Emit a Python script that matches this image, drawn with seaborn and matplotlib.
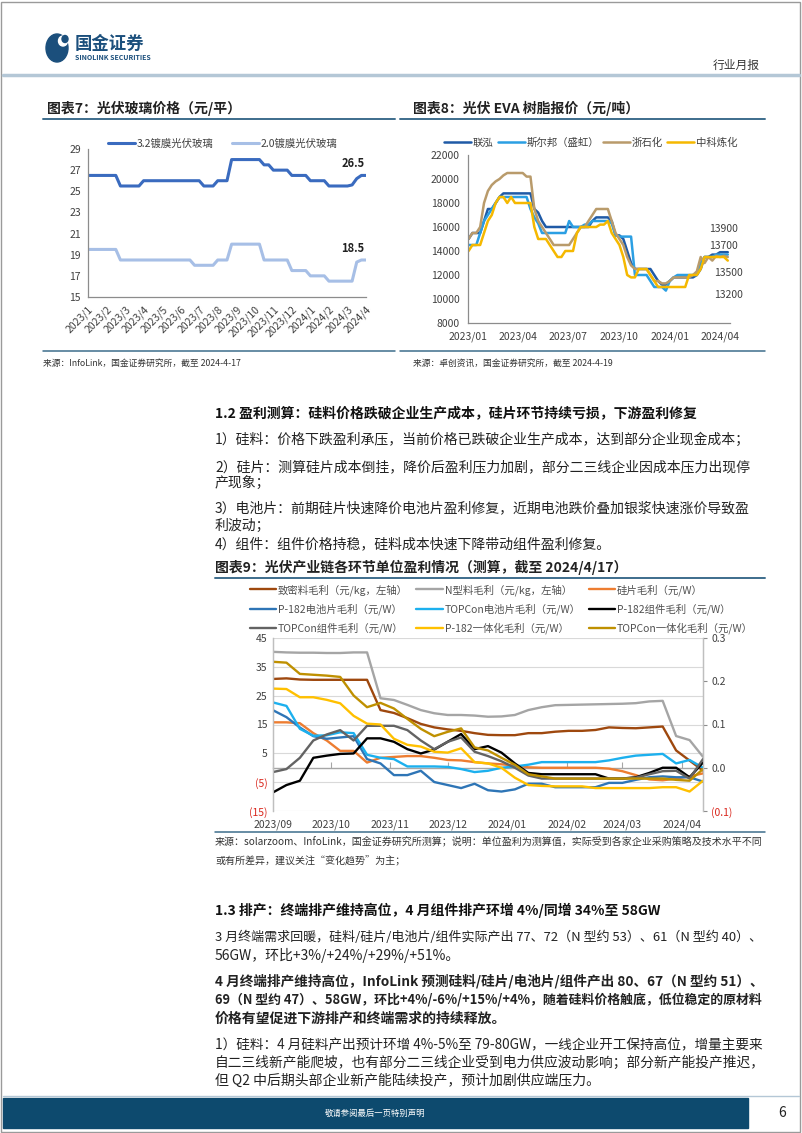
import matplotlib
matplotlib.use("Agg")
import matplotlib.pyplot as plt
import matplotlib.dates as mdates
import matplotlib.ticker as mticker
from matplotlib.lines import Line2D
from matplotlib.patches import Rectangle, Ellipse
import seaborn as sns
import pandas as pd
import numpy as np

W, H = 802, 1133

# ---------------- 图表7：光伏玻璃价格（元/平） ----------------
glass_labels = ["2023/1", "2023/2", "2023/3", "2023/4", "2023/5", "2023/6", "2023/7", "2023/8",
                "2023/9", "2023/10", "2023/11", "2023/12", "2024/1", "2024/2", "2024/3", "2024/4"]
glass_names = ["3.2镀膜光伏玻璃", "2.0镀膜光伏玻璃"]
glass_32 = [26.5, 26.5, 26.5, 26.5, 26.5, 26.5, 26.5,
            25.5, 25.5, 25.5, 25.5, 25.5,
            26, 26, 26, 26, 26, 26, 26, 26, 26, 26, 26, 26, 26,
            25.5, 25.5, 25.5,
            26, 26, 26,
            28, 28, 28, 28, 28, 28, 28,
            27.5, 27.5,
            27, 27, 27, 27,
            26.5, 26.5, 26.5, 26.5,
            26, 26, 26, 26,
            25.5, 25.5, 25.5, 25.5, 25.5,
            25.6, 26.2, 26.5, 26.5]
glass_20 = [19.5, 19.5, 19.5, 19.5, 19.5, 19.5, 19.5,
            18.5, 18.5, 18.5, 18.5, 18.5, 18.5, 18.5, 18.5,
            18.5, 18.5, 18.5, 18.5, 18.5, 18.5, 18.5, 18.5,
            18, 18, 18, 18, 18,
            18.5, 18.5, 18.5,
            20, 20, 20, 20, 20, 20, 20,
            18.5, 18.5, 18.5, 18.5, 18.5, 18.5,
            17.5, 17.5, 17.5, 17.5,
            17, 17, 17, 17,
            16.5, 16.5, 16.5, 16.5, 16.5, 16.5,
            18.3, 18.5, 18.5]
glass_end_labels = ["26.5", "18.5"]

# ---------------- 图表8：光伏 EVA 树脂报价（元/吨） ----------------
eva_start = "2023-01-02"
eva_names = ["联泓", "斯尔邦（盛虹）", "浙石化", "中科炼化"]
eva_lianhong = [15000, 15500, 15500, 15500, 16500, 17500, 17500, 18000, 18500,
                18800, 18800, 18800, 18800, 18800, 18800, 18800, 18800,
                17500, 17200, 16500,
                16000, 16000, 16000, 16000, 16000, 16000, 16000, 16000, 16000, 16000, 16000, 16000,
                16500, 16800, 16800, 16800, 16800, 16500, 15300, 15300, 15000, 14000, 13000,
                12500, 12500, 12500, 12500, 12500,
                12000, 11500, 11200, 11200, 11500,
                11800, 11800, 11800, 11800, 11800, 11800,
                12000, 12500, 13500, 13500, 13700, 13700, 13900, 13900, 13900]
eva_sirbang = [14500, 14500, 14500, 15500, 16500, 17000, 17500, 18000, 18500,
               18500, 18500, 18500, 18500, 18500, 18500, 18500,
               17500, 16800, 16300,
               15500, 15500, 15500, 15500, 15500, 15500, 15500,
               16500, 16000, 16000, 16000, 16200, 16200,
               16500, 16500, 16500, 16500, 16500,
               16300, 15300, 15200, 15200, 15200, 15200,
               12000, 12000, 12000, 12000,
               11500, 11000, 11000, 11000, 10700, 11500, 11800,
               12000, 12000, 12000, 12000, 12000, 12000,
               13000, 13500, 13500, 13500, 13700, 13700, 13700, 13700]
eva_zheshihua = [15000, 15500, 15500, 16000, 18000, 19000, 19500, 19800, 20000, 20300,
                 20500, 20500, 20500, 20500, 20500,
                 20200, 20200, 17500, 16500, 16000, 15500, 15000,
                 14500, 14500, 14500, 14500, 14500,
                 15000, 15500, 16000, 16000, 16500, 17000,
                 17500, 17500, 17500, 17500,
                 16500, 15500, 15000, 14500, 13500, 12800,
                 12500, 12500, 12500, 12500,
                 12000, 11500, 11500, 11300, 11300, 11500,
                 11800, 11800, 11800, 11800, 11800,
                 12000, 12300, 13500, 13000, 13500, 13200, 13600, 13500, 13600, 13500]
eva_zhongke = [14000, 14500, 14500, 14500, 15500, 16500, 17000, 18000, 18500, 18500, 18000, 18500,
               18000, 18000, 18000, 18000, 18000,
               16000, 15000, 15000, 15000, 14500, 14000, 13500, 13500, 14000, 14000, 14000, 15500,
               16000, 16000, 16000, 16000, 16000,
               16200, 16200, 16500,
               15500, 15000, 14500, 13500, 12000, 11800, 11800, 12500, 12500, 12500, 12000, 11500,
               11000, 11000, 11000, 11000, 11000, 11000, 11000, 11000,
               12000, 12000, 12000, 12500,
               13500, 13500, 13500, 13500, 13500, 13500,
               13200]
eva_end_labels = ["13900", "13700", "13500", "13200"]

# ---------------- 图表9：光伏产业链各环节单位盈利情况 ----------------
margin_start = "2023-09-01"
margin_names = ["致密料毛利（元/kg，左轴）", "N型料毛利（元/kg，左轴）", "硅片毛利（元/W）",
                "P-182电池片毛利（元/W）", "TOPCon电池片毛利（元/W）", "P-182组件毛利（元/W）",
                "TOPCon组件毛利（元/W）", "P-182一体化毛利（元/W）", "TOPCon一体化毛利（元/W）"]
# left axis, 元/kg
zhimi = [30.8, 31.0, 30.6, 30.5, 30.5, 30.5, 30.5, 30.5, 20.0, 19.0, 17.2, 15.2, 14.0, 13.3, 12.8, 12.0,
         11.4, 11.3, 11.3, 12.0, 12.0, 12.5, 12.8, 12.8, 13.1, 14.0, 13.8, 13.7, 14.0, 14.3, 6.0, 2.5, -1.0]
ntype = [40.2, 40.0, 39.9, 39.9, 39.8, 39.8, 40.0, 40.0, 24.1, 23.5, 21.8, 20.0, 18.9, 18.3, 18.3, 18.1,
         17.7, 17.8, 18.3, 20.0, 21.0, 21.7, 21.8, 21.9, 22.0, 22.1, 22.2, 22.4, 23.0, 23.2, 11.0, 9.6, 3.8]
# right axis, 元/W
wafer = [0.105, 0.105, 0.103, 0.08, 0.063, 0.039, 0.039, 0.012, 0.023, 0.025, 0.027, 0.027, 0.023, 0.018,
         0.017, 0.013, 0.010, 0.008, 0.005, 0.001, 0.0, 0.0, 0.0, 0.0, 0.0, -0.002, -0.008, -0.017,
         -0.027, -0.029, -0.025, -0.020, -0.013]
p_cell = [0.133, 0.117, 0.093, 0.073, 0.067, 0.07, 0.073, 0.02, 0.01, -0.017, -0.017, -0.007, -0.033,
          -0.04, -0.047, -0.037, -0.052, -0.055, -0.05, -0.037, -0.037, -0.045, -0.045, -0.045, -0.045,
          -0.035, -0.035, -0.028, -0.022, -0.02, -0.022, -0.022, -0.032]
t_cell = [0.151, 0.143, 0.09, 0.074, 0.075, 0.082, 0.08, 0.03, 0.023, 0.02, 0.003, 0.003, 0.003, 0.002,
          -0.003, -0.01, -0.007, 0.0, 0.003, 0.007, 0.013, 0.013, 0.013, 0.013, 0.013, 0.017, 0.023,
          0.028, 0.03, 0.032, 0.01, 0.018, 0.0]
p_mod = [-0.057, -0.04, -0.03, 0.023, 0.028, 0.032, 0.033, 0.068, 0.068, 0.06, 0.043, 0.033, 0.042, 0.06,
         0.078, 0.043, 0.05, 0.035, 0.01, -0.012, -0.015, -0.015, -0.015, -0.015, -0.015, -0.025, -0.025,
         -0.022, -0.012, 0.0, 0.0, -0.022, 0.012]
t_mod = [-0.01, -0.003, 0.023, 0.063, 0.077, 0.087, 0.063, 0.097, 0.097, 0.097, 0.087, 0.063, 0.043, 0.06,
         0.07, 0.037, 0.027, 0.015, 0.0, -0.018, -0.025, -0.025, -0.025, -0.025, -0.025, -0.025, -0.025,
         -0.023, -0.015, -0.008, -0.007, -0.025, 0.02]
p_int = [0.183, 0.182, 0.163, 0.163, 0.157, 0.149, 0.12, 0.102, 0.1, 0.067, 0.053, 0.049, 0.037, 0.035,
         0.045, 0.013, 0.01, 0.0, -0.023, -0.04, -0.042, -0.043, -0.043, -0.043, -0.047, -0.047, -0.047,
         -0.047, -0.047, -0.045, -0.045, -0.055, -0.03]
t_int = [0.245, 0.243, 0.217, 0.215, 0.213, 0.21, 0.167, 0.14, 0.15, 0.137, 0.113, 0.09, 0.073, 0.083,
         0.091, 0.047, 0.04, 0.023, 0.007, -0.015, -0.02, -0.025, -0.025, -0.025, -0.025, -0.025, -0.025,
         -0.025, -0.025, -0.025, -0.028, -0.03, -0.003]
left_ticks = [-15, -5, 5, 15, 25, 35, 45]
left_tick_labels = ["(15)", "(5)", "5", "15", "25", "35", "45"]
right_ticks = [-0.1, 0.0, 0.1, 0.2, 0.3]
right_tick_labels = ["(0.1)", "0.0", "0.1", "0.2", "0.3"]

# ---------------- page text ----------------
sec12_title = "1.2 盈利测算：硅料价格跌破企业生产成本，硅片环节持续亏损，下游盈利修复"
sec12_lines = ["1）硅料：价格下跌盈利承压，当前价格已跌破企业生产成本，达到部分企业现金成本；",
               "2）硅片：测算硅片成本倒挂，降价后盈利压力加剧，部分二三线企业因成本压力出现停",
               "产现象；",
               "3）电池片：前期硅片快速降价电池片盈利修复，近期电池跌价叠加银浆快速涨价导致盈",
               "利波动；",
               "4）组件：组件价格持稳，硅料成本快速下降带动组件盈利修复。"]
sec13_title = "1.3 排产：终端排产维持高位，4 月组件排产环增 4%/同增 34%至 58GW"
sec13_lines = [("3 月终端需求回暖，硅料/硅片/电池片/组件实际产出 77、72（N 型约 53）、61（N 型约 40）、", "normal"),
               ("56GW，环比+3%/+24%/+29%/+51%。", "normal"),
               ("4 月终端排产维持高位，InfoLink 预测硅料/硅片/电池片/组件产出 80、67（N 型约 51）、", "bold"),
               ("69（N 型约 47）、58GW，环比+4%/-6%/+15%/+4%，随着硅料价格触底，低位稳定的原材料", "bold"),
               ("价格有望促进下游排产和终端需求的持续释放。", "bold"),
               ("1）硅料：4 月硅料产出预计环增 4%-5%至 79-80GW，一线企业开工保持高位，增量主要来", "normal"),
               ("自二三线新产能爬坡，也有部分二三线企业受到电力供应波动影响；部分新产能投产推迟，", "normal"),
               ("但 Q2 中后期头部企业新产能陆续投产，预计加剧供应端压力。", "normal")]

sns.set_style("white")
plt.rcParams["font.family"] = ["Noto Sans CJK SC", "DejaVu Sans"]
plt.rcParams["axes.unicode_minus"] = False

NAVY = "#0d4a6e"
RULE = "#3d6d8c"
TICK = "#404040"
SPINE = "#8c8c8c"

fig = plt.figure(figsize=(W / 100, H / 100), dpi=100)
renderer = fig.canvas.get_renderer()


def box(x0, y0, x1, y1):
    return [x0 / W, 1 - y1 / H, (x1 - x0) / W, (y1 - y0) / H]


def put(x, y, s, size, weight="normal", maxw=None, **kw):
    t = fig.text(x / W, 1 - y / H, s, fontsize=size, fontweight=weight, va="center", **kw)
    if maxw:
        w = t.get_window_extent(renderer).width
        if w > maxw:
            t.set_fontsize(size * maxw / w)
    return t


def rule(x0, x1, y, color=RULE, lw=1.4):
    fig.add_artist(Line2D([x0 / W, x1 / W], [1 - y / H, 1 - y / H], color=color, lw=lw))


# ---------------- header / footer ----------------
fig.add_artist(Rectangle((1 / W, 1 / H), 799 / W, 1130 / H, fill=False, ec="#9a9a9a", lw=1))
fig.add_artist(Ellipse((57 / W, 1 - 48 / H), 22 / W, 28 / H, color="#1b4f7c"))
fig.add_artist(Ellipse((63 / W, 1 - 41 / H), 9 / W, 10 / H, color="white"))
fig.add_artist(Ellipse((65 / W, 1 - 39 / H), 6 / W, 7 / H, color="#1b4f7c"))
put(75, 44, "国金证券", 12.5, "bold", color="#1b4f7c")
put(75, 57, "SINOLINK SECURITIES", 5, "bold", color="#1b4f7c")
put(760, 65, "行业月报", 8.5, ha="right", color="#333333")
rule(3, 799, 75, color="#b4c7d6", lw=2.5)

fig.add_artist(Rectangle((3 / W, 1 - 1128 / H), 745 / W, 30 / H, color=NAVY))
rule(3, 799, 1096, color="#b4c7d6", lw=1)
put(375, 1113, "敬请参阅最后一页特别声明", 6, ha="center", color="white")
put(782, 1113, "6", 10, ha="center", color="#222222")

# ---------------- 图表7 ----------------
put(47, 108, "图表7：光伏玻璃价格（元/平）", 10, "bold", color="#222222")
rule(43, 395, 119)
rule(43, 395, 351, lw=1.1)
put(43, 363, "来源：InfoLink，国金证券研究所，截至 2024-4-17", 6.3, color="#333333")

ax7 = fig.add_axes(box(88, 149, 366, 297))
xi = np.arange(len(glass_32))
sns.lineplot(x=xi, y=glass_32, ax=ax7, color="#3a6bbf", lw=2.2)
sns.lineplot(x=xi, y=glass_20, ax=ax7, color="#a7bfe6", lw=2.2)
ax7.set_xlim(xi[0], xi[-1])
ax7.set_ylim(15, 29)
ax7.set_yticks(range(15, 30, 2))
ax7.set_xticks(xi[::4], labels=glass_labels, rotation=45, ha="right", rotation_mode="anchor")
ax7.set_xlabel("")
ax7.set_ylabel("")
ax7.tick_params(axis="both", labelsize=7.5, colors=TICK, length=3, width=0.8, color=SPINE, pad=2)
for s in ["top", "right"]:
    ax7.spines[s].set_visible(False)
for s in ["left", "bottom"]:
    ax7.spines[s].set_color(SPINE)
    ax7.spines[s].set_linewidth(0.9)
for series, lbl, dy in zip([glass_32, glass_20], glass_end_labels, [12, 11]):
    ax7.annotate(lbl, xy=(xi[-1], series[-1]), xytext=(-13, dy), textcoords="offset pixels",
                 ha="center", va="center", fontsize=8, fontweight="bold", color="#222222")
fig.legend(ax7.lines[:2], glass_names, loc="center left", bbox_to_anchor=(108 / W, 1 - 144 / H),
           ncol=2, frameon=False, fontsize=7.5, handlelength=2.6, handletextpad=0.2,
           columnspacing=1.7, borderpad=0, borderaxespad=0, labelcolor="#404040")

# ---------------- 图表8 ----------------
put(413, 108, "图表8：光伏 EVA 树脂报价（元/吨）", 10, "bold", color="#222222")
rule(400, 765, 119)
rule(400, 765, 351, lw=1.1)
put(413, 363, "来源：卓创资讯，国金证券研究所，截至 2024-4-19", 6.3, color="#333333")

ax8 = fig.add_axes(box(468, 155, 730, 323))
dates8 = pd.date_range(eva_start, periods=len(eva_lianhong), freq="7D")
eva_series = [eva_lianhong, eva_sirbang, eva_zheshihua, eva_zhongke]
eva_colors = ["#1f5aa6", "#2b9fe3", "#b99b6b", "#f5b800"]
for vals, c in zip(eva_series, eva_colors):
    sns.lineplot(x=dates8, y=vals, ax=ax8, color=c, lw=1.8)
ax8.set_xlim(pd.Timestamp("2023-01-01"), pd.Timestamp("2024-04-19"))
ax8.set_ylim(8000, 22000)
ax8.set_yticks(range(8000, 22001, 2000))
ax8.xaxis.set_major_locator(mdates.MonthLocator(bymonth=[1, 4, 7, 10]))
ax8.xaxis.set_major_formatter(mdates.DateFormatter("%Y/%m"))
ax8.set_xlabel("")
ax8.set_ylabel("")
ax8.tick_params(axis="both", labelsize=7.5, colors=TICK, length=3, width=0.8, color=SPINE, pad=3)
for s in ["top", "right"]:
    ax8.spines[s].set_visible(False)
for s in ["left", "bottom"]:
    ax8.spines[s].set_color(SPINE)
    ax8.spines[s].set_linewidth(0.9)
for vals, lbl, off in zip(eva_series, eva_end_labels, [(-4, 23), (-4, 9), (1, -16), (1, -34)]):
    ax8.annotate(lbl, xy=(dates8[-1], vals[-1]), xytext=off, textcoords="offset pixels",
                 ha="center", va="center", fontsize=7.5, color="#404040", annotation_clip=False)
fig.legend(ax8.lines[:4], eva_names, loc="center left", bbox_to_anchor=(444 / W, 1 - 143 / H),
           ncol=4, frameon=False, fontsize=7.5, handlelength=2.6, handletextpad=0.15,
           columnspacing=0.4, borderpad=0, borderaxespad=0, labelcolor="#404040")

# ---------------- section 1.2 ----------------
put(215, 413, sec12_title, 10, "bold", maxw=520, color="#111111")
for y, line in zip([440, 467, 484, 508, 526, 544], sec12_lines):
    put(215, y, line, 10, maxw=548, color="#222222")

# ---------------- 图表9 ----------------
put(215, 567, "图表9：光伏产业链各环节单位盈利情况（测算，截至 2024/4/17）", 10, "bold", color="#222222")
rule(215, 765, 578)
rule(215, 765, 832, lw=1.1)

ax9 = fig.add_axes(box(273, 638, 703, 811))
ax9b = ax9.twinx()
dates9 = pd.date_range(margin_start, periods=len(zhimi), freq="7D")
handles = []
left_series = [(zhimi, "#9e480e"), (ntype, "#a5a5a5")]
right_series = [(wafer, "#ed7d31"), (p_cell, "#2e75b6"), (t_cell, "#1cb0ee"), (p_mod, "#000000"),
                (t_mod, "#636363"), (p_int, "#ffc000"), (t_int, "#bf9000")]
for vals, c in left_series:
    sns.lineplot(x=dates9, y=vals, ax=ax9, color=c, lw=1.7)
    handles.append(ax9.lines[-1])
for vals, c in right_series:
    sns.lineplot(x=dates9, y=vals, ax=ax9b, color=c, lw=1.7)
    handles.append(ax9b.lines[-1])

ax9.set_xlim(dates9[0], dates9[-1])
ax9.set_ylim(left_ticks[0], left_ticks[-1])
ax9.set_yticks(left_ticks, labels=left_tick_labels)
ax9b.set_ylim(right_ticks[0], right_ticks[-1])
ax9b.set_yticks(right_ticks, labels=right_tick_labels)
for a in (ax9, ax9b):
    a.set_xlabel("")
    a.set_ylabel("")
ax9.yaxis.grid(True, color="#d9d9d9", lw=0.8)
ax9.set_axisbelow(True)
ax9.xaxis.set_major_locator(mdates.MonthLocator())
ax9.xaxis.set_major_formatter(mdates.DateFormatter("%Y/%m"))
ax9.tick_params(axis="x", labelsize=7.5, colors=TICK, length=0, pad=6)
ax9.tick_params(axis="y", labelsize=7.5, colors=TICK, length=0, pad=4)
ax9b.tick_params(axis="y", labelsize=7.5, colors=TICK, length=3, color=SPINE, pad=3)
for lbl in ax9.get_yticklabels() + ax9b.get_yticklabels():
    if lbl.get_text().startswith("("):
        lbl.set_color("#d9261c")
for a in (ax9, ax9b):
    for s in ["top", "bottom"]:
        a.spines[s].set_visible(False)
    for s in ["left", "right"]:
        a.spines[s].set_color("#bfbfbf")
        a.spines[s].set_linewidth(0.9)
# zero line carrying the month ticks
zero_pos = (0 - left_ticks[0]) / (left_ticks[-1] - left_ticks[0])
sec = ax9.secondary_xaxis(zero_pos)
sec.xaxis.set_major_locator(mdates.MonthLocator())
sec.xaxis.set_major_formatter(mticker.NullFormatter())
sec.tick_params(direction="in", length=4, color="#a6a6a6", width=0.8)
sec.spines["bottom"].set_color("#a6a6a6")
sec.spines["bottom"].set_linewidth(1.0)

order = [0, 3, 6, 1, 4, 7, 2, 5, 8]
fig.legend([handles[i] for i in order], [margin_names[i] for i in order], loc="upper left",
           bbox_to_anchor=(250 / W, 1 - 584 / H), ncol=3, frameon=False, fontsize=7.5,
           handlelength=2.5, handletextpad=0.2, columnspacing=0.8, labelspacing=0.75,
           borderpad=0, borderaxespad=0, labelcolor="#505050")

src9 = put(215, 842, "来源：solarzoom、InfoLink，国金证券研究所测算；说明：单位盈利为测算值，实际受到各家企业采购策略及技术水平不同",
           7.5, maxw=548, color="#333333")
put(215, 861, "或有所差异，建议关注\u201c变化趋势\u201d为主；", src9.get_fontsize(), color="#333333")

# ---------------- section 1.3 ----------------
put(215, 910, sec13_title, 10, "bold", maxw=520, color="#111111")
for y, (line, wt) in zip([937, 955, 981, 1000, 1019, 1045, 1063, 1081], sec13_lines):
    put(215, y, line, 10, wt, maxw=548, color="#222222")

fig.savefig("out.png", dpi=100)
